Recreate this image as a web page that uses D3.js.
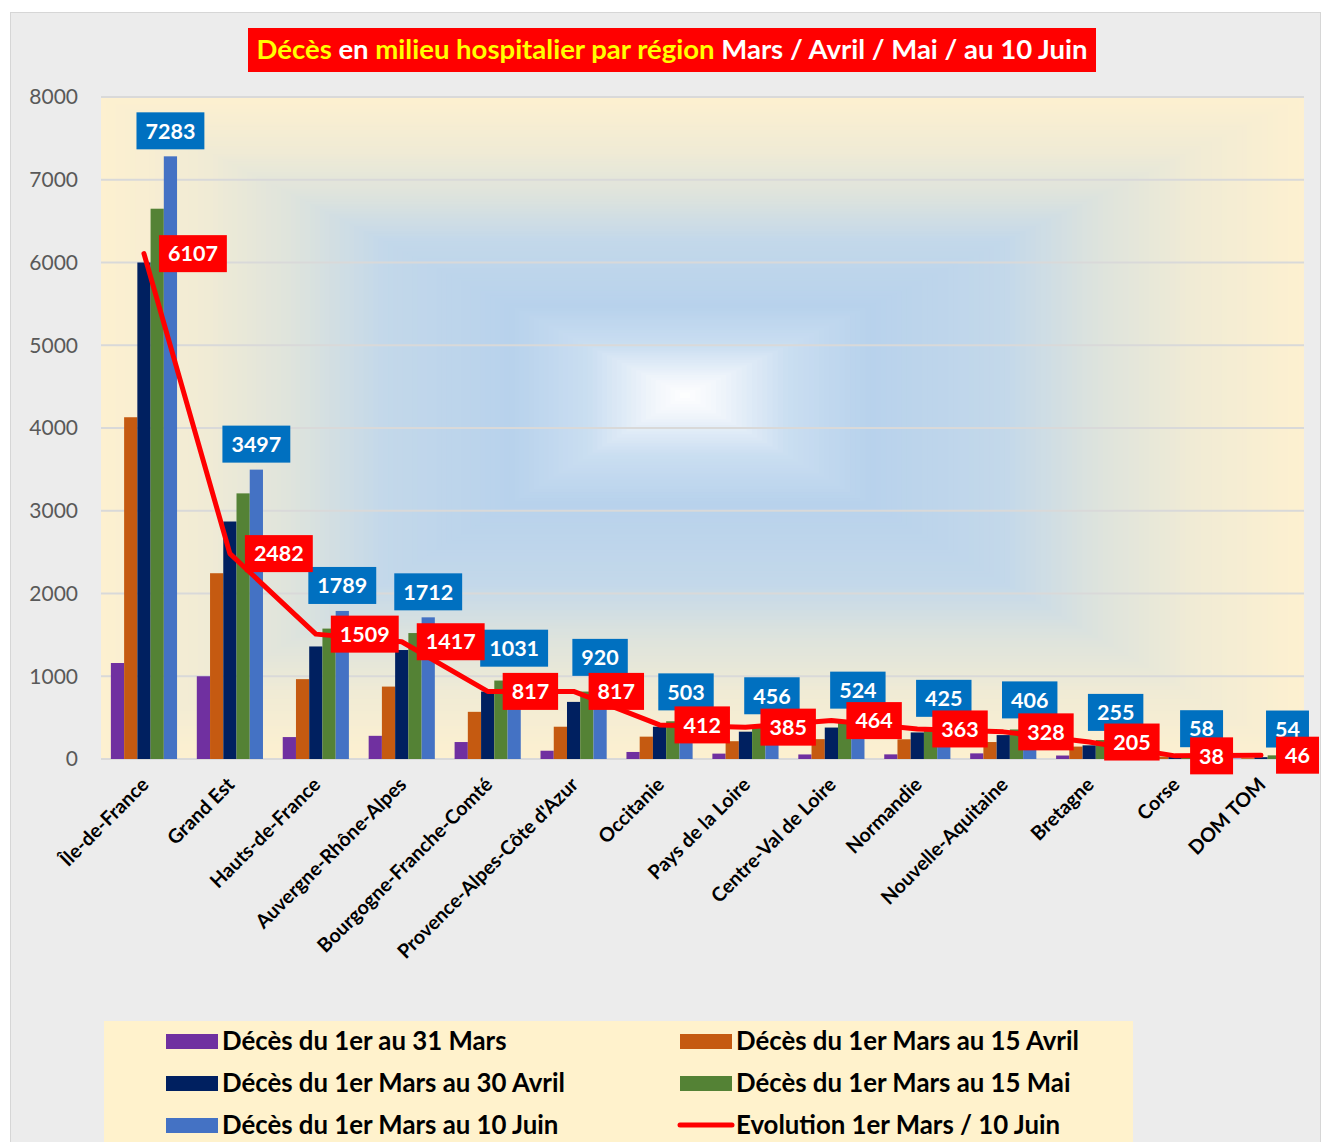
<!DOCTYPE html>
<html>
<head>
<meta charset="utf-8">
<script src="https://cdn.jsdelivr.net/npm/d3@7"></script>
<style>
  body { margin: 0; background: #fff; }
  svg { display: block; font-family: Lato, "Open Sans", sans-serif; }
</style>
</head>
<body>
<div id="chart"></div>
<script>
// Data
const regions = ["Île-de-France", "Grand Est", "Hauts-de-France", "Auvergne-Rhône-Alpes",
  "Bourgogne-Franche-Comté", "Provence-Alpes-Côte d'Azur", "Occitanie", "Pays de la Loire",
  "Centre-Val de Loire", "Normandie", "Nouvelle-Aquitaine", "Bretagne", "Corse", "DOM TOM"];

const seriesNames = ["Décès du 1er au 31 Mars", "Décès du 1er Mars au 15 Avril",
  "Décès du 1er Mars au 30 Avril", "Décès du 1er Mars au 15 Mai", "Décès du 1er Mars au 10 Juin"];
const lineName = "Evolution 1er Mars / 10 Juin";

const mars31  = [1160, 1000, 265, 280, 205, 100, 85, 65, 55, 56, 68, 42, 8, 4];
const avril15 = [4130, 2245, 965, 875, 570, 390, 270, 215, 240, 238, 205, 150, 30, 10];
const avril30 = [6000, 2870, 1360, 1317, 815, 690, 390, 330, 380, 321, 289, 165, 45, 22];
const mai15   = [6650, 3210, 1576, 1522, 948, 815, 456, 395, 455, 370, 357, 229, 52, 44];
const juin10  = [7283, 3497, 1789, 1712, 1031, 920, 503, 456, 524, 425, 406, 255, 58, 54];
const evolution = [6107, 2482, 1509, 1417, 817, 817, 412, 385, 464, 363, 328, 205, 38, 46];

const yTicks = [0, 1000, 2000, 3000, 4000, 5000, 6000, 7000, 8000];

const seriesValues = [mars31, avril15, avril30, mai15, juin10];
const seriesColors = ["#7030a0", "#c55a11", "#002060", "#548235", "#4472c4"];

// Layout
const W = 1322, H = 1142;
const plot = { left: 101, right: 1304, top: 97, bottom: 759 };

const svg = d3.select("#chart").append("svg")
  .attr("width", W)
  .attr("height", H);

// chart area
svg.append("rect")
  .attr("x", 10.5).attr("y", 12.5)
  .attr("width", 1310).attr("height", 1150)
  .attr("fill", "#ececec")
  .attr("stroke", "#d6d6d6");

// plot background: rectangular path gradient, drawn as nested rects
const bgColor = d3.scaleLinear()
  .domain([0, 0.18, 0.33, 0.48, 0.7, 0.83, 0.94, 1])
  .range(["#fdf0d0", "#f0ebd5", "#dde3dd", "#c3d8ea", "#b8d2ec", "#cadef1", "#f0f5fb", "#ffffff"])
  .interpolate(d3.interpolateRgb);
const cx = 685, cy = 395;
const bg = svg.append("g");
d3.range(0, 1, 1 / 120).forEach(t => {
  const x0 = plot.left + t * (cx - plot.left);
  const x1 = plot.right - t * (plot.right - cx);
  const y0 = plot.top + t * (cy - plot.top);
  const y1 = plot.bottom - t * (plot.bottom - cy);
  bg.append("rect")
    .attr("x", x0).attr("y", y0)
    .attr("width", x1 - x0).attr("height", y1 - y0)
    .attr("fill", bgColor(t));
});

// Scales
const x0 = d3.scaleBand().domain(regions).range([plot.left, plot.right]);
const bw = x0.bandwidth();
const x1 = d3.scaleBand().domain(d3.range(5)).range([bw * 0.115, bw * 0.885]);
const y = d3.scaleLinear().domain([0, 8000]).range([plot.bottom, plot.top]);

// gridlines
svg.append("g")
  .selectAll("line")
  .data(yTicks)
  .join("line")
    .attr("x1", plot.left).attr("x2", plot.right)
    .attr("y1", d => y(d)).attr("y2", d => y(d))
    .attr("stroke", "#d9d9d9")
    .attr("stroke-width", 2);

// y tick labels
svg.append("g")
  .selectAll("text")
  .data(yTicks)
  .join("text")
    .attr("x", 78)
    .attr("y", d => y(d))
    .attr("dy", "0.35em")
    .attr("text-anchor", "end")
    .attr("fill", "#595959")
    .style("font-size", "21px")
    .text(d => d);

// bars
const groups = svg.append("g")
  .selectAll("g")
  .data(regions)
  .join("g")
    .attr("transform", d => `translate(${x0(d)},0)`);

groups.selectAll("rect")
  .data((r, i) => seriesValues.map((vals, k) => ({ k, v: vals[i] })))
  .join("rect")
    .attr("x", d => x1(d.k))
    .attr("width", x1.bandwidth())
    .attr("y", d => y(d.v))
    .attr("height", d => y(0) - y(d.v))
    .attr("fill", d => seriesColors[d.k]);

// x labels
svg.append("g")
  .selectAll("text")
  .data(regions)
  .join("text")
    .attr("transform", d => `translate(${x0(d) + bw / 2 + 1},${plot.bottom + 22}) rotate(-45)`)
    .attr("text-anchor", "end")
    .attr("dy", "0.35em")
    .attr("fill", "#000")
    .style("font-size", "19.6px")
    .style("font-weight", "bold")
    .text(d => d);

// evolution line
const lineGen = d3.line()
  .x((d, i) => x0(regions[i]) + bw / 2)
  .y(d => y(d));

svg.append("path")
  .attr("d", lineGen(evolution))
  .attr("fill", "none")
  .attr("stroke", "#ff0000")
  .attr("stroke-width", 5)
  .attr("stroke-linejoin", "round")
  .attr("stroke-linecap", "round");

// data labels
function addLabel(g, text, fill) {
  const t = g.append("text")
    .attr("text-anchor", "middle")
    .attr("dy", "0.36em")
    .attr("fill", "#fff")
    .style("font-size", "21.5px")
    .style("font-weight", "bold")
    .text(text);
  const w = t.node().getComputedTextLength() + 18;
  g.insert("rect", "text")
    .attr("x", -w / 2).attr("y", -18.5)
    .attr("width", w).attr("height", 37)
    .attr("fill", fill);
  return w;
}

const blueLabels = svg.append("g");
juin10.forEach((v, i) => {
  const g = blueLabels.append("g")
    .attr("transform", `translate(${x0(regions[i]) + x1(4) + x1.bandwidth() / 2},${y(v) - 7 - 18.5})`);
  addLabel(g, v, "#0070c0");
});

const redLabels = svg.append("g");
evolution.forEach((v, i) => {
  const g = redLabels.append("g");
  const w = addLabel(g, v, "#ff0000");
  g.attr("transform", `translate(${x0(regions[i]) + bw / 2 + 15 + w / 2},${y(v)})`);
});

// title
const title = svg.append("g");
title.append("rect")
  .attr("x", 248).attr("y", 28)
  .attr("width", 848).attr("height", 44)
  .attr("fill", "#ff0000");
const tt = title.append("text")
  .attr("x", 672).attr("y", 59)
  .attr("text-anchor", "middle")
  .attr("textLength", 831)
  .attr("lengthAdjust", "spacingAndGlyphs")
  .style("font-size", "26px")
  .style("font-weight", "bold");
[["Décès ", "#ffff00"], ["en ", "#fff"], ["milieu hospitalier par région ", "#ffff00"],
 ["Mars / Avril / Mai / au 10 Juin", "#fff"]].forEach(([s, c]) => {
  tt.append("tspan").attr("fill", c).text(s);
});

// legend
const legend = svg.append("g");
legend.append("rect")
  .attr("x", 104).attr("y", 1021)
  .attr("width", 1029).attr("height", 130)
  .attr("fill", "#fff2cc");

const legendItems = [
  { name: seriesNames[0], color: seriesColors[0], col: 0, row: 0 },
  { name: seriesNames[1], color: seriesColors[1], col: 1, row: 0 },
  { name: seriesNames[2], color: seriesColors[2], col: 0, row: 1 },
  { name: seriesNames[3], color: seriesColors[3], col: 1, row: 1 },
  { name: seriesNames[4], color: seriesColors[4], col: 0, row: 2 },
  { name: lineName, color: "#ff0000", col: 1, row: 2, line: true }
];
const colX = [166, 680];
legendItems.forEach(d => {
  const g = legend.append("g")
    .attr("transform", `translate(${colX[d.col]},${1041 + d.row * 42})`);
  if (d.line) {
    g.append("line")
      .attr("x1", 0).attr("x2", 52)
      .attr("stroke", d.color)
      .attr("stroke-width", 5)
      .attr("stroke-linecap", "round");
  } else {
    g.append("rect")
      .attr("x", 0).attr("y", -7)
      .attr("width", 52).attr("height", 15)
      .attr("fill", d.color);
  }
  g.append("text")
    .attr("x", 56)
    .attr("dy", "0.36em")
    .attr("fill", "#000")
    .style("font-size", "25.8px")
    .style("font-weight", "bold")
    .text(d.name);
});
</script>
</body>
</html>
